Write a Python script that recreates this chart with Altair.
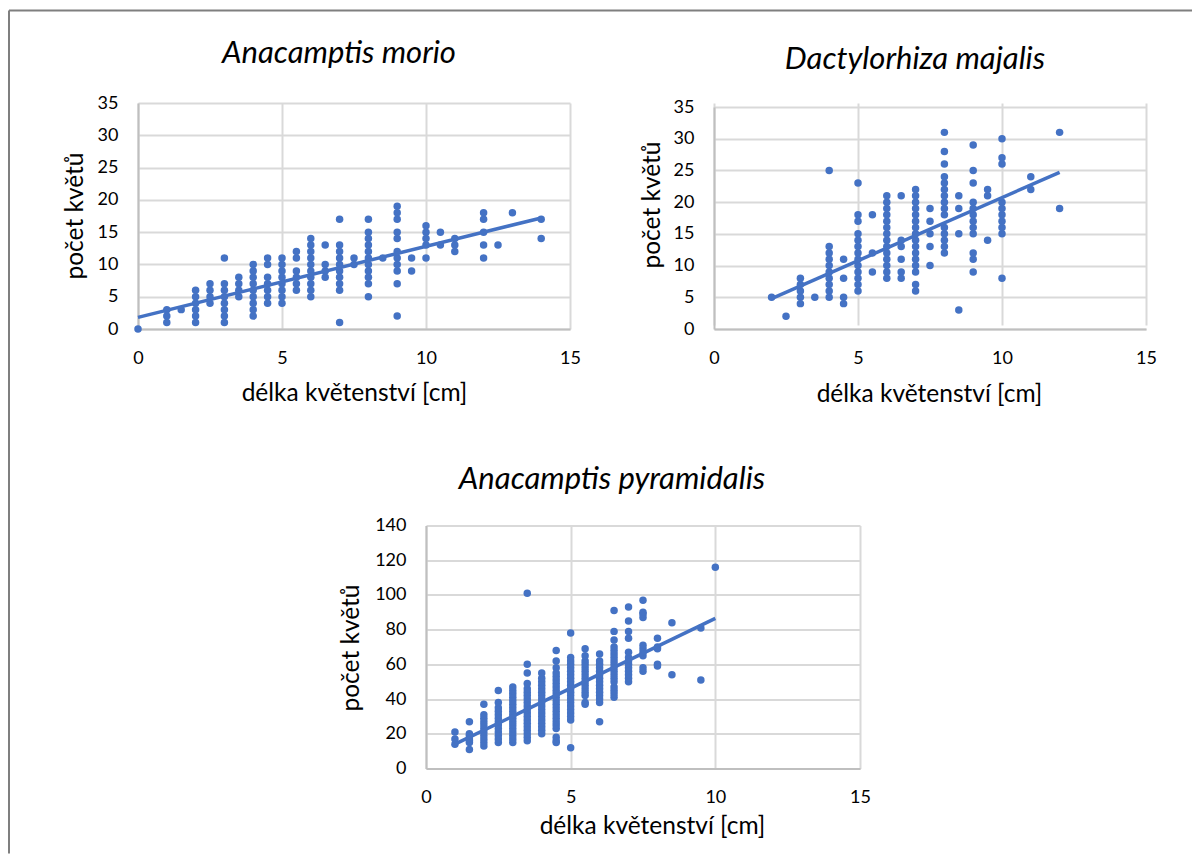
import altair as alt
import pandas as pd

FONT = "Lato"
BLUE = "#4472C4"
GRID = "#D9D9D9"
EDGE = "#BFBFBF"
X_TITLE = "délka květenství [cm]"
Y_TITLE = "počet květů"
X_TICKS = [0, 5, 10, 15]

morio_x = [0, 1, 1.5, 2, 2.5, 3, 3.5, 4, 4.5, 5, 5.5, 6, 6.5, 7, 7.5, 8, 8.5, 9, 9.5, 10, 10.5, 11, 12, 12.5, 13, 14]
morio_y = [
    [0], [1, 2, 3], [3], [1, 2, 3, 4, 5, 6], [4, 5, 6, 7], [1, 2, 3, 4, 5, 6, 7, 11], [5, 6, 7, 8],
    [2, 3, 4, 5, 6, 7, 8, 9, 10], [4, 5, 6, 7, 8, 10, 11], [4, 5, 6, 7, 8, 9, 10, 11], [6, 7, 8, 9, 11, 12],
    [5, 6, 7, 8, 9, 10, 11, 12, 13, 14], [8, 9, 10, 13], [1, 6, 7, 8, 9, 10, 11, 12, 13, 17], [10, 11],
    [5, 7, 8, 9, 10, 11, 12, 13, 14, 15, 17], [11], [2, 7, 9, 10, 11, 12, 14, 15, 17, 18, 19], [9, 11],
    [11, 13, 14, 15, 16], [13, 15], [12, 13, 14], [11, 13, 15, 17, 18], [13], [18], [14, 17],
]
morio_trend_x = [0, 14]
morio_trend_y = [1.8, 17.2]

majalis_x = [2, 2.5, 3, 3.5, 4, 4.5, 5, 5.5, 6, 6.5, 7, 7.5, 8, 8.5, 9, 9.5, 10, 11, 12]
majalis_y = [
    [5], [2], [4, 5, 6, 7, 8], [5], [5, 6, 7, 8, 9, 10, 11, 12, 13, 25], [4, 5, 8, 11],
    [6, 7, 8, 9, 10, 11, 12, 13, 14, 15, 17, 18, 23], [9, 12, 18],
    [8, 9, 10, 11, 12, 13, 14, 15, 16, 17, 18, 19, 20, 21], [8, 9, 11, 13, 14, 21],
    [6, 7, 9, 10, 11, 12, 13, 14, 15, 16, 17, 18, 19, 20, 21, 22], [10, 13, 15, 17, 19],
    [12, 13, 14, 15, 16, 18, 19, 20, 21, 22, 23, 24, 26, 28, 31], [3, 15, 19, 21],
    [9, 11, 12, 15, 16, 17, 18, 19, 20, 23, 25, 29], [14, 21, 22],
    [8, 15, 16, 17, 18, 19, 20, 26, 27, 30], [22, 24], [19, 31],
]
majalis_trend_x = [2, 12]
majalis_trend_y = [4.8, 24.7]

pyramidalis_x = [1, 1.5, 2, 2.5, 3, 3.5, 4, 4.5, 5, 5.5, 6, 6.5, 7, 7.5, 8, 8.5, 9.5, 10]
pyramidalis_y = [
    [14, 17, 21], [11, 15, 16, 17, 19, 20, 27],
    [13, 15, 17, 19, 21, 23, 25, 27, 29, 31, 37],
    [15, 17, 19, 21, 23, 25, 27, 29, 31, 33, 35, 38, 45],
    [15, 17, 19, 21, 23, 25, 27, 29, 31, 33, 35, 37, 39, 41, 43, 45, 47],
    [16, 18, 20, 22, 24, 26, 28, 30, 32, 34, 36, 38, 40, 42, 44, 46, 49, 55, 60, 101],
    [20, 22, 24, 26, 28, 30, 32, 34, 36, 38, 40, 42, 44, 46, 48, 50, 52, 55],
    [15, 16, 18, 23, 25, 27, 29, 31, 33, 35, 37, 39, 41, 43, 45, 47, 49, 51, 53, 55, 58, 62, 68],
    [12, 28, 30, 32, 34, 36, 38, 40, 42, 44, 46, 48, 50, 52, 54, 56, 58, 60, 62, 64, 78],
    [37, 38, 42, 44, 46, 48, 50, 52, 54, 56, 58, 60, 62, 65, 69],
    [27, 38, 40, 42, 44, 46, 48, 50, 52, 54, 56, 58, 60, 62, 66],
    [41, 43, 45, 47, 50, 52, 54, 56, 58, 60, 62, 64, 66, 68, 70, 74, 79, 91],
    [50, 52, 54, 56, 58, 60, 62, 64, 67, 75, 79, 85, 93],
    [56, 58, 65, 67, 69, 71, 87, 89, 90, 97],
    [59, 60, 69, 70, 75], [54, 84], [51, 81], [116],
]
pyramidalis_trend_x = [1, 10]
pyramidalis_trend_y = [14, 86.5]

frame_x = [0]
frame_x2 = [1]
frame_y = [1]
frame_left_y = [0]


def flatten(xs, ys):
    return pd.DataFrame([{"x": x, "y": v} for x, col in zip(xs, ys) for v in col])


def panel(name, xs, ys, tx, ty, ymax, ystep, w, h, y_range, title_dx, title_off,
          ytx, yty, xtx, xty):
    pts = flatten(xs, ys)
    trend = pd.DataFrame({"x": tx, "y": ty})
    xenc = alt.X(
        "x:Q",
        scale=alt.Scale(domain=[0, 15], nice=False),
        axis=alt.Axis(values=X_TICKS, title=X_TITLE, titleX=xtx, titleY=xty, titleAnchor="middle",
                      titleBaseline="alphabetic", labelPadding=20, labelFlush=False, labelOverlap=False),
    )
    yticks = list(range(0, ymax + 1, ystep))
    yenc = alt.Y(
        "y:Q",
        scale=alt.Scale(domain=[0, ymax], nice=False, range=y_range),
        axis=alt.Axis(values=yticks, title=Y_TITLE, titleX=ytx, titleY=yty,
                      titleBaseline="alphabetic", labelPadding=20, labelFlush=False, labelOverlap=False),
    )
    dots = alt.Chart(pts).mark_circle(size=56, color=BLUE, opacity=1).encode(x=xenc, y=yenc)
    line = alt.Chart(trend).mark_line(color=BLUE, strokeWidth=3.5).encode(x=xenc, y=yenc)
    return alt.layer(dots, line).properties(
        width=w,
        height=h,
        title=alt.TitleParams(name, fontStyle="italic", fontWeight="normal", font=FONT, fontSize=31,
                              color="#000000", anchor="middle", baseline="alphabetic",
                              dx=title_dx, offset=title_off),
    )


p1 = panel("Anacamptis morio", morio_x, morio_y, morio_trend_x, morio_trend_y, 35, 5,
           432, 226, [226, 0], -15, 0, -56, 112.5, 216, 71.5)
p2 = panel("Dactylorhiza majalis", majalis_x, majalis_y, majalis_trend_x, majalis_trend_y, 35, 5,
           432, 226, [226, 4], -15, -2, -54.5, 101.5, 215, 72.5)
p3 = panel("Anacamptis pyramidalis", pyramidalis_x, pyramidalis_y, pyramidalis_trend_x, pyramidalis_trend_y, 140, 20,
           434, 243, [243, 0], -31, -3, -68, 122, 226, 65)

# outer page frame: sits in the empty grid cell and reaches out to the page edges
fx = alt.Scale(domain=[0, 1], range=[-129, 1054])
fy = alt.Scale(domain=[0, 1], range=[328, -515])
top = alt.Chart(pd.DataFrame({"x": frame_x, "x2": frame_x2, "y": frame_y})).mark_rule(
    color="#7F7F7F", strokeWidth=2
).encode(x=alt.X("x:Q", scale=fx, axis=None), x2="x2:Q", y=alt.Y("y:Q", scale=fy, axis=None))
left = alt.Chart(pd.DataFrame({"x": frame_x, "y": frame_left_y, "y2": frame_y})).mark_rule(
    color="#7F7F7F", strokeWidth=2
).encode(x=alt.X("x:Q", scale=fx, axis=None), y=alt.Y("y:Q", scale=fy, axis=None), y2="y2:Q")
frame = alt.layer(top, left).properties(width=144, height=1)

row1 = alt.hconcat(p1, p2, spacing=144, bounds="flush")
row2 = alt.hconcat(frame, p3, spacing=144, bounds="flush")

chart = (
    alt.vconcat(row1, row2, spacing=422.5, bounds="flush")
    .properties(padding={"left": 0, "top": 1, "right": 0, "bottom": 0}, background="white")
    .configure_view(stroke=None)
    .configure_axis(
        grid=True, gridColor=GRID, gridWidth=2, ticks=False,
        domain=True, domainColor=EDGE, domainWidth=2,
        labelFont=FONT, labelFontSize=18, labelColor="#000000",
        titleFont=FONT, titleFontSize=24.5, titleFontWeight="normal", titleColor="#000000",
    )
)

chart.save("out.html", embed_options={"renderer": "svg", "actions": False})
